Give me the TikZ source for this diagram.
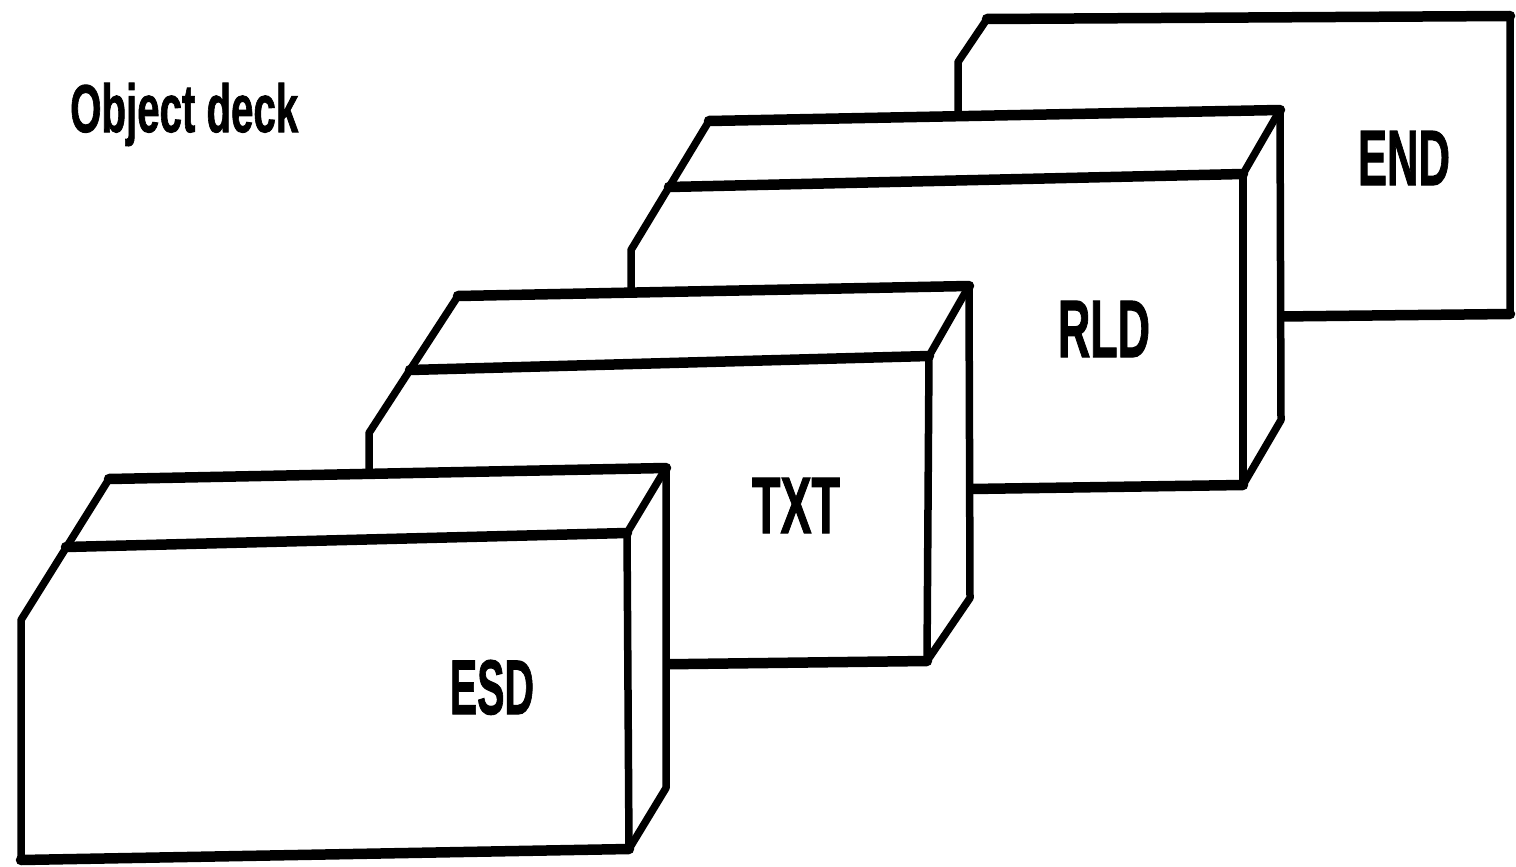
\documentclass[tikz,border=0pt]{standalone}
\usepackage{fontspec}
\setmainfont{Liberation Sans}
\newfontfamily\heavyfont{Liberation Sans}[BoldFont={* Bold},BoldFeatures={FakeBold=1.5}]
\begin{document}
\begin{tikzpicture}[x=1pt,y=-1pt,
  edge/.style={line width=7.5pt,line join=round,line cap=round},
  hedge/.style={line width=10.5pt,line cap=round},
  card/.style={edge,fill=white},
  lbl/.style={inner sep=0pt,anchor=base}]
\useasboundingbox (0,0) rectangle (1516,867);

% ---------- END card (flat) ----------
\coordinate (nTL) at (987,19);
\coordinate (nTR) at (1510,16);
\coordinate (nBR) at (1510,314);
\coordinate (nBL) at (958,320);
\coordinate (nCE) at (958,62);
\filldraw[card] (nTL) -- (nTR) -- (nBR) -- (nBL) -- (nCE) -- cycle;
\draw[hedge] (nTL) -- (nTR);
\draw[hedge] (nBR) -- (nBL);
\node[lbl] (endl) at (1404,185) {\resizebox{92pt}{54pt}{\heavyfont\bfseries END}};

% ---------- RLD card ----------
\coordinate (rBTL) at (709,121);
\coordinate (rBTR) at (1280,110);
\coordinate (rBRB) at (1281,420);
\coordinate (rFBR) at (1243,485);
\coordinate (rBL)  at (631,494);
\coordinate (rCE)  at (631,250);
\coordinate (rFTL) at (669,187);
\coordinate (rFTR) at (1243,174);
\filldraw[card] (rBTL) -- (rBTR) -- (rBRB) -- (rFBR) -- (rBL) -- (rCE) -- cycle;
\draw[edge] (rFTL) -- (rFTR) -- (rBTR);
\draw[edge] (rFTR) -- (rFBR);
\draw[hedge] (rBTL) -- (rBTR);
\draw[hedge] (rFTL) -- (rFTR);
\draw[hedge] (rFBR) -- (rBL);
\node[lbl] (rld) at (1104,357) {\resizebox{92pt}{56pt}{\heavyfont\bfseries RLD}};

% ---------- TXT card ----------
\coordinate (tBTL) at (458,296);
\coordinate (tBTR) at (969,286);
\coordinate (tBRB) at (970,598);
\coordinate (tFBR) at (927,661);
\coordinate (tBL)  at (369,668);
\coordinate (tCE)  at (369,433);
\coordinate (tFTL) at (410,370);
\coordinate (tFTR) at (929,356);
\filldraw[card] (tBTL) -- (tBTR) -- (tBRB) -- (tFBR) -- (tBL) -- (tCE) -- cycle;
\draw[edge] (tFTL) -- (tFTR) -- (tBTR);
\draw[edge] (tFTR) -- (tFBR);
\draw[hedge] (tBTL) -- (tBTR);
\draw[hedge] (tFTL) -- (tFTR);
\draw[hedge] (tFBR) -- (tBL);
\node[lbl] (txt) at (796,533) {\resizebox{88pt}{55pt}{\heavyfont\bfseries TXT}};

% ---------- ESD card ----------
\coordinate (eBTL) at (109,479);
\coordinate (eBTR) at (666,468);
\coordinate (eBRB) at (666,788);
\coordinate (eFBR) at (629,849);
\coordinate (eBL)  at (21,860);
\coordinate (eCE)  at (21,620);
\coordinate (eFTL) at (66,547);
\coordinate (eFTR) at (627,533);
\filldraw[card] (eBTL) -- (eBTR) -- (eBRB) -- (eFBR) -- (eBL) -- (eCE) -- cycle;
\draw[edge] (eFTL) -- (eFTR) -- (eBTR);
\draw[edge] (eFTR) -- (eFBR);
\draw[hedge] (eBTL) -- (eBTR);
\draw[hedge] (eFTL) -- (eFTR);
\draw[hedge] (eFBR) -- (eBL);
\node[lbl] (esd) at (492,714) {\resizebox{84pt}{54pt}{\heavyfont\bfseries ESD}};

% ---------- title ----------
\node[inner sep=0pt,anchor=base west] (title) at (70,132)
  {\resizebox{228pt}{49pt}{\heavyfont\bfseries Object deck}};
\end{tikzpicture}
\end{document}
